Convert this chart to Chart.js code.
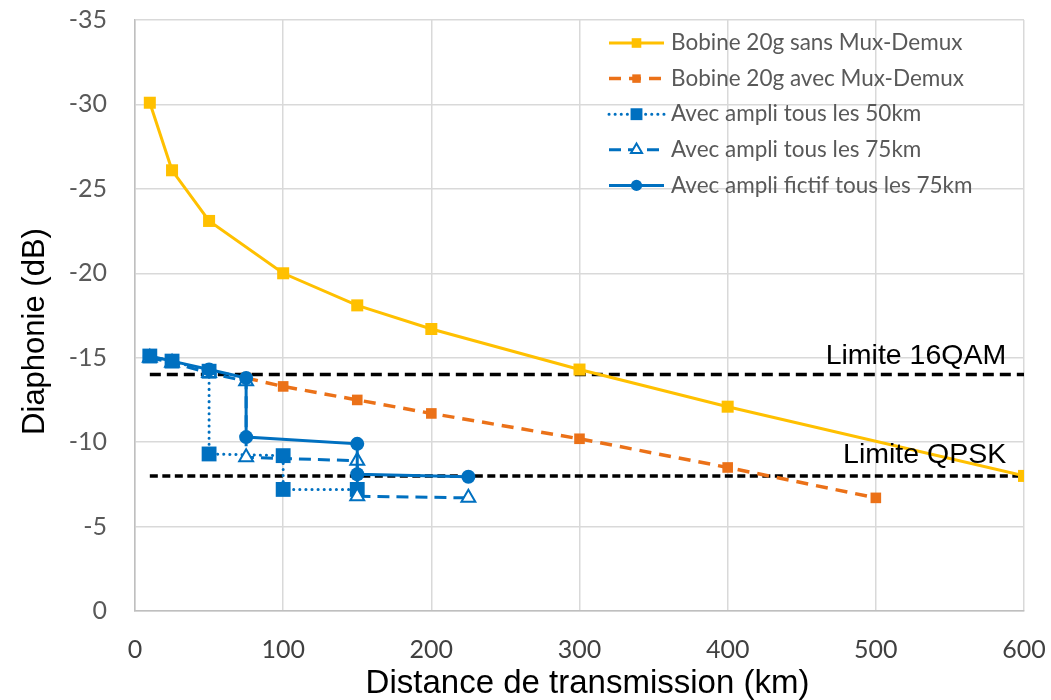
<!DOCTYPE html>
<html>
<head>
<meta charset="utf-8">
<script src="https://cdn.jsdelivr.net/npm/chart.js@4"></script>
<style>
  body { margin: 0; background: #fff; }
  #wrap { width: 1051px; height: 700px; }
</style>
</head>
<body>
<div id="wrap"><canvas id="chart"></canvas></div>
<script>
const ARIAL = "'Liberation Sans', Arial, sans-serif";
const CALIBRI = "Lato, 'Open Sans', sans-serif";

const xTicks = [0, 100, 200, 300, 400, 500, 600];
const yTicks = [0, -5, -10, -15, -20, -25, -30, -35];
const xTitle = 'Distance de transmission (km)';
const yTitle = 'Diaphonie (dB)';

const sansDist = [10, 25, 50, 100, 150, 200, 300, 400, 600];
const sansXt = [-30.1, -26.1, -23.1, -20.0, -18.1, -16.7, -14.3, -12.1, -8.0];

const avecDist = [75, 100, 150, 200, 300, 400, 500];
const avecXt = [-13.8, -13.3, -12.5, -11.7, -10.2, -8.5, -6.7];

const a50Dist = [10, 25, 50, 50, 100, 100, 150];
const a50Xt = [-15.1, -14.8, -14.2, -9.3, -9.2, -7.2, -7.2];

const a75Dist = [10, 25, 50, 75, 75, 150, 150, 225];
const a75Xt = [-15.0, -14.7, -14.1, -13.6, -9.1, -8.9, -6.8, -6.7];

const fictDist = [10, 25, 50, 75, 75, 150, 150, 225];
const fictXt = [-15.1, -14.8, -14.3, -13.8, -10.3, -9.9, -8.1, -7.95];

const limitDist = [10, 600];
const limit16qam = [-14, -14];
const limitQpsk = [-8, -8];
const limitLabels = ['Limite 16QAM', 'Limite QPSK'];

const YELLOW = '#FFC000';
const ORANGE = '#EB7118';
const BLUE = '#0070C0';

const pts = (xs, ys) => xs.map((x, i) => ({ x, y: ys[i] }));

const datasets = [
    {
        label: 'Avec ampli fictif tous les 75km',
        data: pts(fictDist, fictXt),
        borderColor: BLUE, backgroundColor: BLUE, borderWidth: 3,
        pointStyle: 'circle', pointRadius: 7, pointBorderWidth: 0,
        order: 1
    },
    {
        label: 'Avec ampli tous les 75km',
        data: pts(a75Dist, a75Xt),
        borderColor: BLUE, backgroundColor: '#fff', borderWidth: 3, borderDash: [12, 7],
        pointStyle: 'triangle', pointRadius: 8, pointBorderWidth: 2,
        pointBorderColor: BLUE, pointBackgroundColor: '#fff',
        order: 2
    },
    {
        label: 'Avec ampli tous les 50km',
        data: pts(a50Dist, a50Xt),
        borderColor: BLUE, backgroundColor: BLUE, borderWidth: 3,
        borderDash: [0.1, 6], borderCapStyle: 'round',
        pointStyle: 'rect', pointRadius: 10.5, pointBorderWidth: 0,
        order: 3
    },
    {
        label: 'Bobine 20g avec Mux-Demux',
        data: pts(avecDist, avecXt),
        borderColor: ORANGE, backgroundColor: ORANGE, borderWidth: 3.5, borderDash: [12, 8],
        pointStyle: 'rect', pointRadius: 7.5, pointBorderWidth: 0,
        order: 4
    },
    {
        label: 'Bobine 20g sans Mux-Demux',
        data: pts(sansDist, sansXt),
        borderColor: YELLOW, backgroundColor: YELLOW, borderWidth: 3,
        pointStyle: 'rect', pointRadius: 8.5, pointBorderWidth: 0,
        order: 5
    },
    {
        label: limitLabels[0],
        data: pts(limitDist, limit16qam),
        borderColor: '#000', borderWidth: 3.5, borderDash: [11, 6], pointRadius: 0,
        order: 6
    },
    {
        label: limitLabels[1],
        data: pts(limitDist, limitQpsk),
        borderColor: '#000', borderWidth: 3.5, borderDash: [8, 4.5], pointRadius: 0,
        order: 7
    }
];

// legend in Excel order, drawn by hand so the line sample shows its marker
const legendOrder = [4, 3, 2, 1, 0];

const legendPlugin = {
    id: 'excelLegend',
    afterDraw(chart) {
        const ctx = chart.ctx;
        const x0 = 609, x1 = 664, tx = 671;
        let y = 43;
        ctx.save();
        legendOrder.forEach(i => {
            const ds = datasets[i];
            ctx.strokeStyle = ds.borderColor;
            ctx.lineWidth = ds.borderWidth;
            ctx.lineCap = ds.borderCapStyle || 'butt';
            ctx.setLineDash(ds.borderDash || []);
            ctx.beginPath();
            ctx.moveTo(x0, y);
            ctx.lineTo(x1, y);
            ctx.stroke();
            ctx.setLineDash([]);
            ctx.lineCap = 'butt';
            ctx.fillStyle = ds.pointBackgroundColor || ds.backgroundColor;
            ctx.strokeStyle = ds.pointBorderColor || ds.borderColor;
            ctx.lineWidth = ds.pointBorderWidth;
            Chart.helpers.drawPoint(ctx, {
                pointStyle: ds.pointStyle,
                radius: ds.pointRadius * 0.8,
                rotation: 0,
                borderWidth: ds.pointBorderWidth
            }, (x0 + x1) / 2, y);
            ctx.fillStyle = '#595959';
            ctx.font = "22.5px " + CALIBRI;
            ctx.textBaseline = 'middle';
            ctx.textAlign = 'left';
            ctx.fillText(ds.label, tx, y);
            y += 35.6;
        });

        // limit labels above the dashed lines
        const xs = chart.scales.x, ys = chart.scales.y;
        ctx.fillStyle = '#000';
        ctx.font = "28.5px " + ARIAL;
        ctx.textAlign = 'right';
        ctx.textBaseline = 'alphabetic';
        ctx.fillText(limitLabels[0], xs.getPixelForValue(588), ys.getPixelForValue(limit16qam[0]) - 11);
        ctx.fillText(limitLabels[1], xs.getPixelForValue(588), ys.getPixelForValue(limitQpsk[0]) - 13);

        // axis titles
        const area = chart.chartArea;
        ctx.font = "33px " + ARIAL;
        ctx.textAlign = 'center';
        ctx.fillText(xTitle, (area.left + area.right) / 2 + 8, 693);
        ctx.translate(35, (area.top + area.bottom) / 2 + 16);
        ctx.rotate(-Math.PI / 2);
        ctx.font = "31px " + ARIAL;
        ctx.textBaseline = 'middle';
        ctx.fillText(yTitle, 0, 0);
        ctx.restore();
    }
};

new Chart(document.getElementById('chart'), {
    type: 'scatter',
    data: { datasets },
    options: {
        responsive: true,
        maintainAspectRatio: false,
        animation: false,
        devicePixelRatio: 1,
        layout: { padding: { top: 20, right: 27, left: 0, bottom: 0 } },
        plugins: { legend: { display: false }, tooltip: { enabled: false } },
        elements: { line: { tension: 0 } },
        datasets: { scatter: { showLine: true } },
        scales: {
            x: {
                type: 'linear', min: xTicks[0], max: xTicks[xTicks.length - 1],
                afterBuildTicks: s => { s.ticks = xTicks.map(v => ({ value: v })); },
                afterFit: s => { s.height = 89; s.paddingLeft = 0; s.paddingRight = 0; },
                ticks: { color: '#404040', font: { family: CALIBRI, size: 25 }, padding: 24 },
                grid: { color: '#d9d9d9', lineWidth: 1.5, drawTicks: false },
                border: { color: '#bfbfbf', width: 1.5 }
            },
            y: {
                type: 'linear', min: -35, max: 0, reverse: true,
                afterBuildTicks: s => { s.ticks = yTicks.map(v => ({ value: v })); },
                afterFit: s => { s.width = 135; s.paddingTop = 0; s.paddingBottom = 0; },
                ticks: { color: '#595959', font: { family: CALIBRI, size: 25 }, padding: 28 },
                grid: { color: '#d9d9d9', lineWidth: 1.5, drawTicks: false },
                border: { color: '#bfbfbf', width: 1.5 }
            }
        }
    },
    plugins: [legendPlugin]
});
</script>
</body>
</html>
